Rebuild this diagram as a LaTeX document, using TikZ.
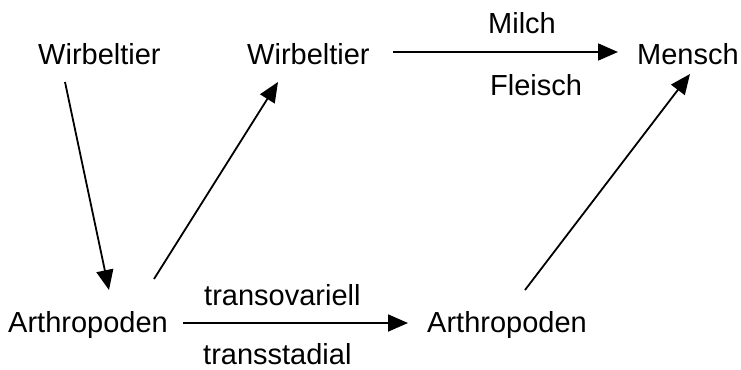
\documentclass[tikz,border=0pt]{standalone}
\usepackage{fontspec}
\setmainfont{Liberation Sans}
\usetikzlibrary{arrows.meta}
\begin{document}
\begin{tikzpicture}[x=1bp,y=-1bp,
  term/.style={inner sep=0pt,anchor=base west,font=\fontsize{29bp}{34bp}\selectfont},
  conn/.style={line width=1.8bp,-{Triangle[length=20bp,width=17bp]}}]
  \useasboundingbox (0,0) rectangle (741,369);
  % terms
  \node[term] (w1)  at (38,64)  {Wirbeltier};
  \node[term] (w2)  at (247,64) {Wirbeltier};
  \node[term] (me)  at (637,64) {Mensch};
  \node[term] (ar1) at (8,332)  {Arthropoden};
  \node[term] (ar2) at (427,332) {Arthropoden};
  % route labels
  \node[term] (milch)   at (488,33)  {Milch};
  \node[term] (fleisch) at (490,95)  {Fleisch};
  \node[term] (tov)     at (204,305) {transovariell};
  \node[term] (tst)     at (203,364) {transstadial};
  % transmission paths
  \draw[conn] ([shift={(27,18)}]w1.base west) -- ([shift={(101,-42)}]ar1.base west);
  \draw[conn] ([shift={(146,-53)}]ar1.base west) -- ([shift={(31,18)}]w2.base west);
  \draw[conn] ([shift={(146,-12)}]w2.base west) -- ([shift={(-19,-12)}]me.base west);
  \draw[conn] ([shift={(175,-9)}]ar1.base west) -- ([shift={(-19,-9)}]ar2.base west);
  \draw[conn] ([shift={(98,-42)}]ar2.base west) -- ([shift={(53,10)}]me.base west);
\end{tikzpicture}
\end{document}
